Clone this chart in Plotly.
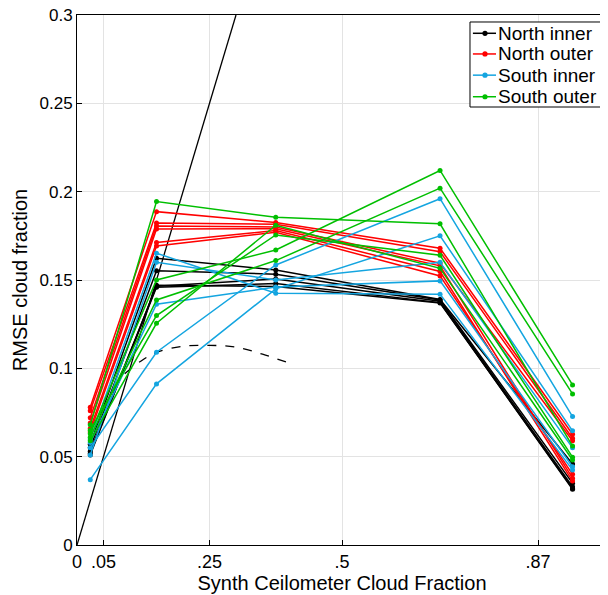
import plotly.graph_objects as go

# bin centres of the synthetic ceilometer cloud fraction
x_bins = [0.025, 0.15, 0.375, 0.685, 0.935]

north_inner = [
    [0.057, 0.1623, 0.1557, 0.1390, 0.0459],
    [0.055, 0.1552, 0.1533, 0.1387, 0.0350],
    [0.053, 0.1465, 0.1506, 0.1380, 0.0330],
    [0.052, 0.1459, 0.1480, 0.1372, 0.0315],
    [0.051, 0.1470, 0.1463, 0.1370, 0.0320],
]
north_outer = [
    [0.078, 0.1887, 0.1825, 0.1680, 0.0627],
    [0.076, 0.1822, 0.1816, 0.1660, 0.0604],
    [0.072, 0.1806, 0.1800, 0.1595, 0.0590],
    [0.069, 0.1788, 0.1790, 0.1580, 0.0378],
    [0.066, 0.1712, 0.1780, 0.1548, 0.0362],
    [0.064, 0.1693, 0.1770, 0.1523, 0.0400],
]
south_inner = [
    [0.060, 0.1652, 0.1425, 0.1420, 0.0425],
    [0.058, 0.1363, 0.1460, 0.1495, 0.0443],
    [0.055, 0.1091, 0.1585, 0.1960, 0.0727],
    [0.037, 0.0912, 0.1450, 0.1750, 0.0646],
    [0.051, 0.1600, 0.1500, 0.1600, 0.0550],
]
south_outer = [
    [0.068, 0.1944, 0.1855, 0.1818, 0.0560],
    [0.063, 0.1500, 0.1670, 0.2120, 0.0906],
    [0.061, 0.1387, 0.1610, 0.2020, 0.0855],
    [0.065, 0.1299, 0.1755, 0.1640, 0.0497],
    [0.059, 0.1255, 0.1810, 0.1566, 0.0481],
]

# 1:1 reference line and dashed curve
ref_x = [0.0, 0.3]
ref_y = [0.0, 0.3]
dash_x = [0.09, 0.12, 0.15, 0.20, 0.25, 0.30, 0.35, 0.40]
dash_y = [0.097, 0.104, 0.109, 0.1125, 0.113, 0.112, 0.108, 0.103]

x_tickvals = [0, 0.05, 0.25, 0.5, 0.87, 1]
x_ticktext = ["0", ".05", ".25", ".5", ".87", "1"]
y_tickvals = [0, 0.05, 0.1, 0.15, 0.2, 0.25, 0.3]
y_ticktext = ["0", "0.05", "0.1", "0.15", "0.2", "0.25", "0.3"]

legend_names = ["North inner", "North outer", "South inner", "South outer"]
legend_colors = ["#000000", "#ff0000", "#14a5e0", "#00bf00"]
groups = list(zip(legend_names, legend_colors,
                  [north_inner, north_outer, south_inner, south_outer]))

fig = go.Figure()

fig.add_trace(go.Scatter(x=ref_x, y=ref_y, mode="lines",
                         line=dict(color="black", width=1.3),
                         showlegend=False, hoverinfo="skip"))
fig.add_trace(go.Scatter(x=dash_x, y=dash_y, mode="lines",
                         line=dict(color="black", width=1.3, dash="dash", shape="spline"),
                         showlegend=False, hoverinfo="skip"))

for name, color, series in groups:
    for i, ys in enumerate(series):
        fig.add_trace(go.Scatter(
            x=x_bins, y=ys, mode="lines+markers", name=name,
            showlegend=False,
            line=dict(color=color, width=1.5),
            marker=dict(color=color, size=5),
        ))

font_family = "Liberation Sans, Arial, Helvetica, sans-serif"

# hand-drawn legend box (paper coordinates)
shapes = [dict(type="rect", xref="paper", yref="paper",
               x0=0.7415, x1=0.996, y0=0.8264, y1=0.9868,
               line=dict(color="black", width=1), fillcolor="white", layer="above")]
annotations = []
entry_y = [0.9655, 0.9265, 0.8865, 0.8458]
mr = 2.6 / 530
for name, color, yy in zip(legend_names, legend_colors, entry_y):
    shapes.append(dict(type="line", xref="paper", yref="paper",
                       x0=0.747, x1=0.7906, y0=yy, y1=yy,
                       line=dict(color=color, width=1.5), layer="above"))
    shapes.append(dict(type="circle", xref="paper", yref="paper",
                       x0=0.7698 - mr, x1=0.7698 + mr, y0=yy - mr, y1=yy + mr,
                       line=dict(color=color, width=0), fillcolor=color, layer="above"))
    annotations.append(dict(xref="paper", yref="paper", x=0.7915, y=yy,
                            xanchor="left", yanchor="middle", showarrow=False,
                            text=name, font=dict(size=19, color="black")))

fig.update_layout(
    width=600, height=587,
    margin=dict(l=69, r=1, t=7, b=50),
    paper_bgcolor="white", plot_bgcolor="white",
    font=dict(family=font_family, size=17, color="black"),
    showlegend=False,
    shapes=shapes, annotations=annotations,
)

fig.update_xaxes(
    range=[0, 1], tickvals=x_tickvals, ticktext=x_ticktext,
    tickfont=dict(size=18),
    showgrid=True, gridcolor="#e3e3e3", gridwidth=1,
    showline=True, linecolor="black", linewidth=1, mirror=True,
    ticks="inside", ticklen=5, tickcolor="black",
    zeroline=False, automargin=False, ticklabeloverflow="allow",
    title=dict(text="Synth Ceilometer Cloud Fraction", standoff=3, font=dict(size=20)),
)
fig.update_yaxes(
    range=[0, 0.3], tickvals=y_tickvals, ticktext=y_ticktext,
    tickfont=dict(size=17),
    showgrid=True, gridcolor="#e3e3e3", gridwidth=1,
    showline=True, linecolor="black", linewidth=1, mirror=True,
    ticks="inside", ticklen=5, tickcolor="black",
    zeroline=False, automargin=False, ticklabeloverflow="allow",
    title=dict(text="RMSE cloud fraction", standoff=6, font=dict(size=20)),
)

fig.write_html("out.html")
